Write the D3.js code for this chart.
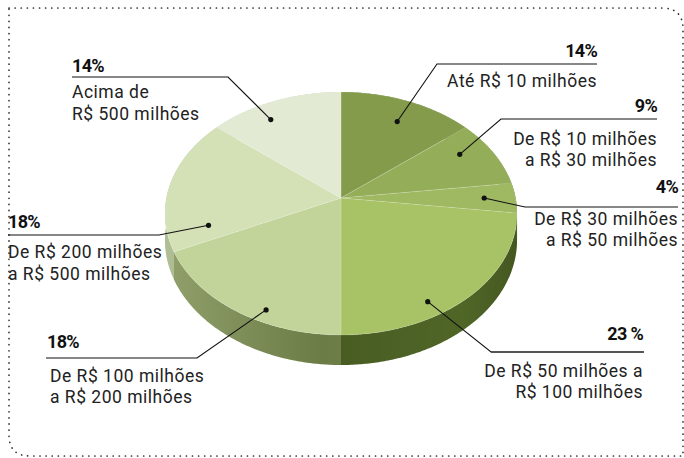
<!DOCTYPE html>
<html>
<head>
<meta charset="utf-8">
<script src="https://cdn.jsdelivr.net/npm/d3@7"></script>
<style>
  html, body { margin: 0; padding: 0; background: #fff; }
  svg { display: block; }
  text { font-family: Roboto, "Liberation Sans", sans-serif; fill: #222; }
  text.pct { font-weight: bold; fill: #111; }
</style>
</head>
<body>
<svg id="chart" width="684" height="458"></svg>
<script>
(function () {
    'use strict';

    // data, clockwise from 12 o'clock
    const categories = [
        ["Até R$ 10 milhões"],
        ["De R$ 10 milhões", "a R$ 30 milhões"],
        ["De R$ 30 milhões", "a R$ 50 milhões"],
        ["De R$ 50 milhões a", "R$ 100 milhões"],
        ["De R$ 100 milhões", "a R$ 200 milhões"],
        ["De R$ 200 milhões", "a R$ 500 milhões"],
        ["Acima de", "R$ 500 milhões"]
    ];
    const values = [14, 9, 4, 23, 18, 18, 14];
    const pctLabels = ["14%", "9%", "4%", "23 %", "18%", "18%", "14%"];

    const topColors = ["#849b4c", "#94ad58", "#9fb862", "#a8c266", "#c2d49a", "#d4e0b6", "#e2ead3"];
    const sideColors = ["#6e8440", "#778d44", "#627b36", "#536a28", "#7e9052", "#a2b382", "#b9c4a6"];

    // label placement: where the dot sits inside the slice (t = share of the slice angle, f = share of radius),
    // where the text block sits, and which way it is anchored
    const layout = [
        {t: 0.53, f: 0.78, anchor: "end",   x: 597, y: 57,  rule: [437, 597, 64],  lines: [87, 108]},
        {t: 0.35, f: 0.81, anchor: "end",   x: 657, y: 112, rule: [501, 657, 119], lines: [145, 166]},
        {t: 0.50, f: 0.82, anchor: "end",   x: 678, y: 193, rule: [525, 678, 207], lines: [225, 246]},
        {t: 0.64, f: 0.90, anchor: "end",   x: 643, y: 340, rule: [491, 644, 352], lines: [377, 398], grey: true},
        {t: 0.38, f: 0.92, anchor: "start", x: 47,  y: 348, rule: [197, 46, 358],  lines: [382, 403], tx: 50},
        {t: 0.13, f: 0.77, anchor: "start", x: 8,   y: 228, rule: [159, 8, 235],   lines: [258, 280]},
        {t: 0.375, f: 0.84, anchor: "start", x: 72, y: 72,  rule: [228, 72, 77],   lines: [98, 120]}
    ];

    // perspective projection of the pie disc
    const CX = 341, AY = 198, A = 174.6, B = 119.5, P = 0.1276, DEPTH = 26.2;
    const project = (theta, f, drop) => {
        const u = f * Math.sin(theta), v = f * Math.cos(theta);
        const w = 1 + P * v;
        return [CX + A * u / w, AY - B * v / w + (drop || 0) / w];
    };

    const svg = d3.select("#chart");
    const line = d3.line();

    // dotted frame
    svg.append("path")
        .attr("d", "M9,8 H662 Q683,8 683,29 V456 H30 Q9,456 9,435 Z")
        .attr("fill", "none")
        .attr("stroke", "#333")
        .attr("stroke-width", 1.7)
        .attr("stroke-linecap", "round")
        .attr("stroke-dasharray", "0.1 6");

    const arcs = d3.pie().sort(null).value(d => d)(values);

    const samples = (a0, a1) => {
        const n = Math.max(2, Math.ceil((a1 - a0) / 0.01));
        return d3.range(n + 1).map(i => a0 + (a1 - a0) * i / n);
    };

    const defs = svg.append("defs");
    const shade = defs.append("linearGradient")
        .attr("id", "wallShade")
        .attr("gradientUnits", "userSpaceOnUse")
        .attr("x1", 165).attr("x2", 517).attr("y1", 0).attr("y2", 0);
    shade.append("stop").attr("offset", 0).attr("stop-color", "#fff").attr("stop-opacity", 0.15);
    shade.append("stop").attr("offset", 0.45).attr("stop-color", "#000").attr("stop-opacity", 0.14);
    shade.append("stop").attr("offset", 0.85).attr("stop-color", "#000").attr("stop-opacity", 0.04);
    shade.append("stop").attr("offset", 1).attr("stop-color", "#000").attr("stop-opacity", 0.18);

    const g = svg.append("g");

    // side walls, back ones first
    const wallOrder = arcs.map((d, i) => i)
        .sort((a, b) => Math.cos((arcs[b].startAngle + arcs[b].endAngle) / 2) -
                        Math.cos((arcs[a].startAngle + arcs[a].endAngle) / 2));
    const wallPath = (a0, a1) => {
        const ts = samples(a0, a1);
        const top = ts.map(t => project(t, 1, 0));
        const bot = ts.slice().reverse().map(t => project(t, 1, DEPTH));
        return line(top.concat(bot)) + "Z";
    };
    g.append("g").selectAll("path")
        .data(wallOrder)
        .join("path")
        .attr("d", i => wallPath(arcs[i].startAngle, arcs[i].endAngle))
        .attr("fill", i => sideColors[i]);

    // shading over the visible front wall
    g.append("path")
        .attr("d", wallPath(Math.PI / 2 - 0.2, 3 * Math.PI / 2 + 0.2))
        .attr("fill", "url(#wallShade)");

    // top faces
    g.append("g").selectAll("path")
        .data(arcs)
        .join("path")
        .attr("d", d => {
            const pts = [project(0, 0)].concat(samples(d.startAngle, d.endAngle).map(t => project(t, 1, 0)));
            return line(pts) + "Z";
        })
        .attr("fill", (d, i) => topColors[i])
        .attr("stroke", "rgba(255,255,255,0.25)")
        .attr("stroke-width", 0.6);

    // labels
    const labels = svg.append("g");
    arcs.forEach((d, i) => {
        const L = layout[i];
        const theta = d.startAngle + (d.endAngle - d.startAngle) * L.t;
        const dot = project(theta, L.f, 0);
        const r = L.rule;

        labels.append("path")
            .attr("d", line([[r[1], r[2]], [r[0], r[2]], dot]))
            .attr("fill", "none")
            .attr("stroke", "#111")
            .attr("stroke-width", 1.1);
        if (L.grey) {
            labels.append("line")
                .attr("x1", r[0]).attr("x2", r[1]).attr("y1", r[2]).attr("y2", r[2])
                .attr("stroke", "#555").attr("stroke-width", 2);
        }
        labels.append("circle")
            .attr("cx", dot[0]).attr("cy", dot[1]).attr("r", 2.6)
            .attr("fill", "#111");

        labels.append("text")
            .attr("class", "pct")
            .attr("x", L.x).attr("y", L.y)
            .attr("text-anchor", L.anchor)
            .style("font-size", "18px")
            .style("letter-spacing", "-0.7px")
            .text(pctLabels[i]);

        categories[i].forEach((s, k) => {
            labels.append("text")
                .attr("x", L.tx || L.x).attr("y", L.lines[k])
                .attr("text-anchor", L.anchor)
                .style("font-size", "17.5px")
                .style("letter-spacing", "0.5px")
                .text(s);
        });
    });
}());
</script>
</body>
</html>
